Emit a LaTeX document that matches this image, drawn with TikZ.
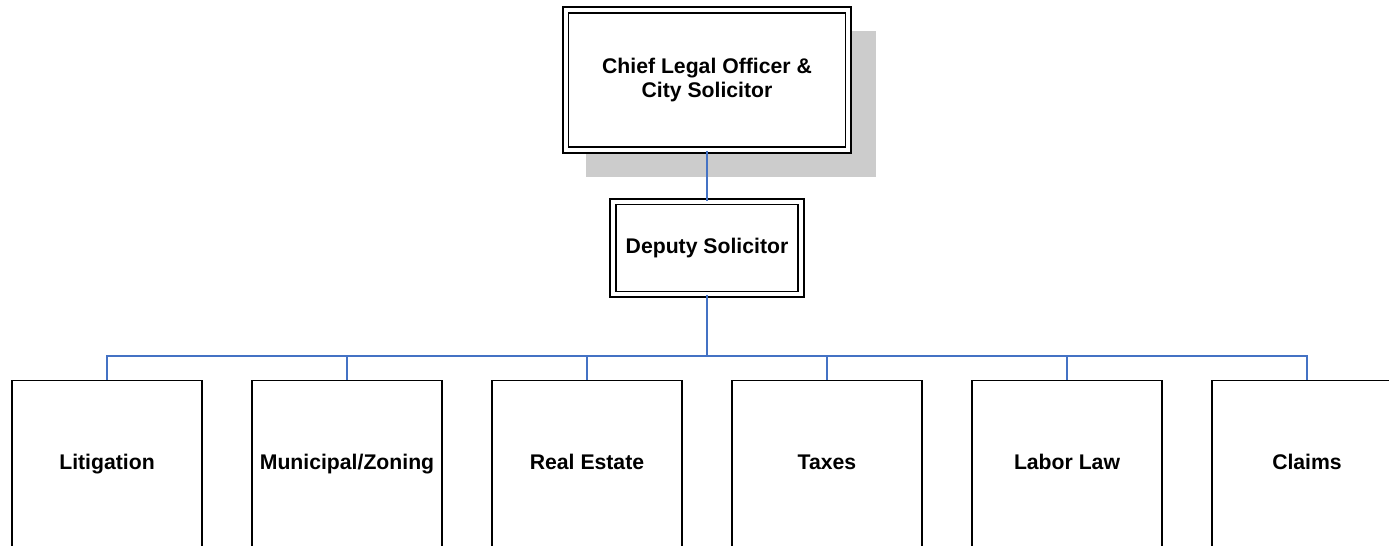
\documentclass[tikz,border=0pt]{standalone}
\usepackage{fontspec}
\setmainfont{Liberation Sans}
\definecolor{linkblue}{HTML}{4472C4}
\definecolor{shadowgray}{HTML}{CCCCCC}

\begin{document}
\begin{tikzpicture}[x=0.75pt,y=-0.75pt,
    font=\bfseries\fontsize{15.9pt}{18pt}\selectfont,
    headbox/.style={draw,fill=white,double,line width=1.2pt,double distance=2.9pt,inner sep=0pt,align=center},
    unitbox/.style={draw,fill=white,line width=1.1pt,inner sep=0pt,text height=11.5pt,text depth=3.5pt,
      minimum width=142.5pt,minimum height=125pt},
    link/.style={draw=linkblue,line width=1pt}]
    \useasboundingbox (0,0) rectangle (1389,546);
    \fill[shadowgray] (586,31) rectangle (876,177);
    \node[headbox,minimum width=212pt,minimum height=105pt] (clo) at (707,80) {Chief Legal Officer \&\\City Solicitor};
    \node[headbox,minimum width=141pt,minimum height=69.4pt] (ds) at (707,248) {Deputy Solicitor};
    \node[unitbox] (lit) at (107,463.75) {Litigation};
    \node[unitbox] (mz) at (347,463.75) {Municipal/Zoning};
    \node[unitbox] (re) at (587,463.75) {Real Estate};
    \node[unitbox] (tx) at (827,463.75) {Taxes};
    \node[unitbox] (ll) at (1067,463.75) {Labor Law};
    \node[unitbox] (cl) at (1307,463.75) {Claims};
    \coordinate (bus) at (707,356);
    \draw[link] (clo) -- (ds);
    \draw[link,line width=1.5pt] (ds) -- (bus);
    \foreach \n in {lit,mz,re,tx,ll,cl}
      \draw[link] (bus) -| (\n.north);
  \end{tikzpicture}
\end{document}
